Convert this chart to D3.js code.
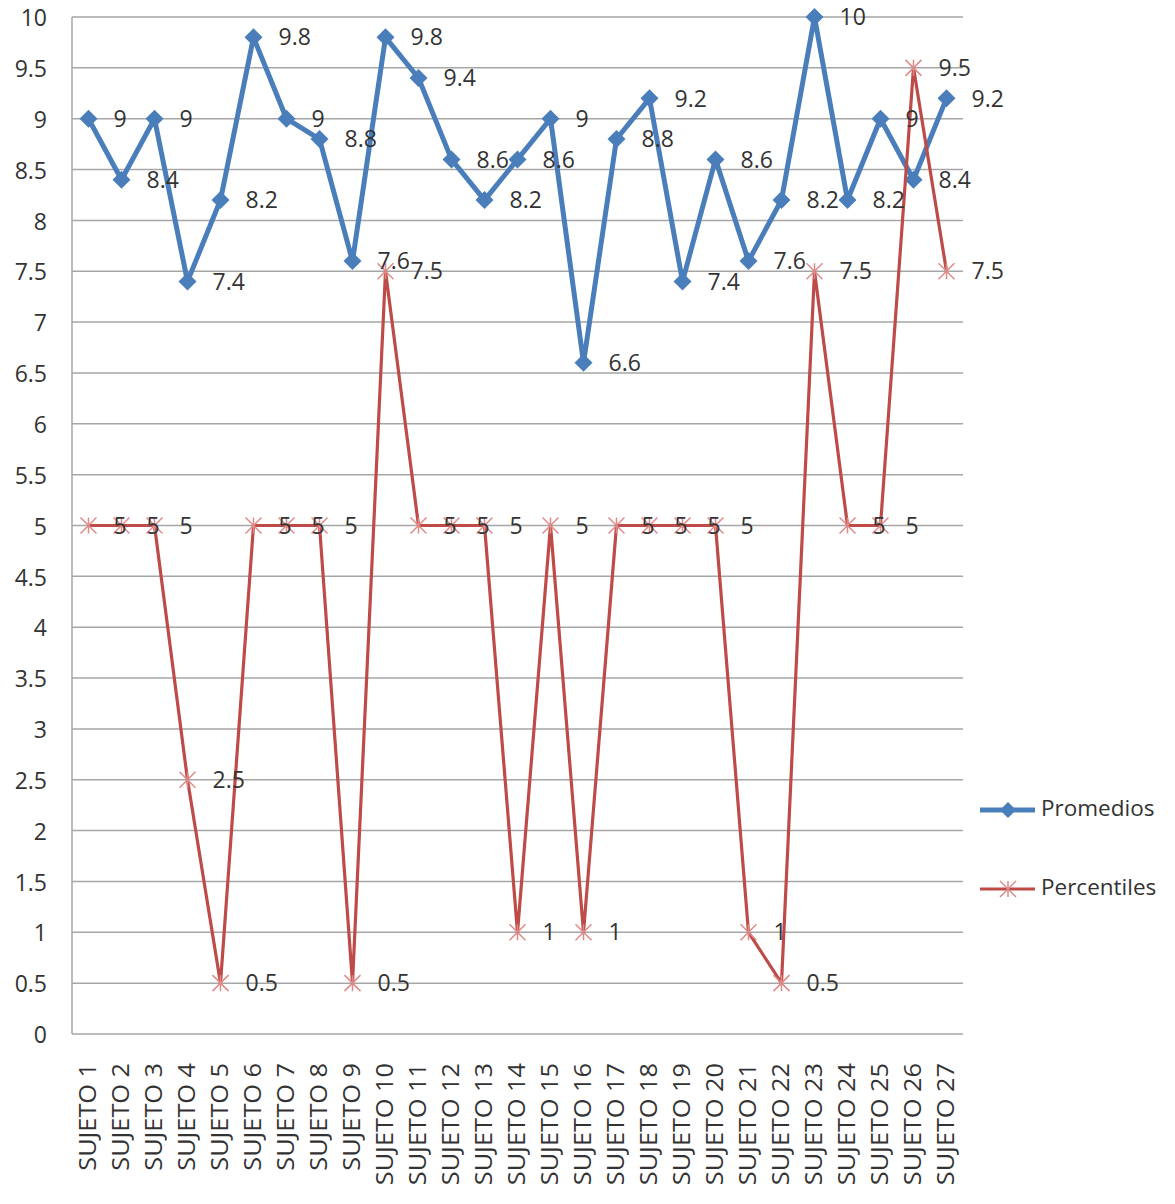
<!DOCTYPE html>
<html><head><meta charset="utf-8">
<script src="https://cdn.jsdelivr.net/npm/d3@7"></script>
<style>
html,body{margin:0;padding:0;background:#fff;}
svg text{font-family:"Open Sans",sans-serif;fill:#333;}
</style></head>
<body>
<svg id="chart" width="1175" height="1204"></svg>
<script>
const categories = d3.range(1, 28).map(i => "SUJETO " + i);
const promedios = [9, 8.4, 9, 7.4, 8.2, 9.8, 9, 8.8, 7.6, 9.8, 9.4, 8.6, 8.2, 8.6, 9, 6.6, 8.8, 9.2, 7.4, 8.6, 7.6, 8.2, 10, 8.2, 9, 8.4, 9.2];
const percentiles = [5, 5, 5, 2.5, 0.5, 5, 5, 5, 0.5, 7.5, 5, 5, 5, 1, 5, 1, 5, 5, 5, 5, 1, 0.5, 7.5, 5, 5, 9.5, 7.5];
const yTicks = d3.range(0, 10.01, 0.5);
const seriesNames = ["Promedios", "Percentiles"];

(function () {
const svg = d3.select("#chart");
const pL = 72, pR = 963, pT = 17, pB = 1034;
const x = d3.scaleBand().domain(categories).range([pL, pR]);
const y = d3.scaleLinear().domain([0, 10]).range([pB, pT]);
const cx = c => x(c) + x.bandwidth() / 2;
const fs = 23;

// gridlines
svg.append("g").selectAll("line").data(yTicks).join("line")
  .attr("x1", pL).attr("x2", pR)
  .attr("y1", d => y(d)).attr("y2", d => y(d))
  .attr("stroke", "#a6a6a6").attr("stroke-width", 1.5);
// left axis line
svg.append("line").attr("x1", pL).attr("x2", pL).attr("y1", pT).attr("y2", pB)
  .attr("stroke", "#a6a6a6").attr("stroke-width", 1.5);

// y tick labels
svg.append("g").selectAll("text").data(yTicks).join("text")
  .attr("x", 47).attr("y", d => y(d) + 3)
  .attr("text-anchor", "end").attr("dominant-baseline", "middle")
  .attr("font-size", fs)
  .text(d => d3.format("~g")(d));

// x labels
svg.append("g").selectAll("text").data(categories).join("text")
  .attr("transform", d => `translate(${cx(d) + 1},1063) rotate(-90) scale(1.1,1)`)
  .attr("text-anchor", "end").attr("dominant-baseline", "middle")
  .attr("font-size", fs)
  .text(d => d);

const line = d3.line().x((d, i) => cx(categories[i])).y(d => y(d));

// Promedios
const blue = "#4a7ebb", red = "#be4b48";
svg.append("path").datum(promedios).attr("d", line)
  .attr("fill", "none").attr("stroke", blue).attr("stroke-width", 5).attr("stroke-linejoin", "round");
const diamond = (g, s) => g.append("path").attr("d", `M0,${-s}L${s},0L0,${s}L${-s},0Z`).attr("fill", blue);
promedios.forEach((v, i) => {
  const g = svg.append("g").attr("transform", `translate(${cx(categories[i])},${y(v)})`);
  diamond(g, 9);
});

// Percentiles
svg.append("path").datum(percentiles).attr("d", line)
  .attr("fill", "none").attr("stroke", red).attr("stroke-width", 3.2).attr("stroke-linejoin", "round");
const star = (g, s, col) => {
  g.append("path").attr("d", `M${-s},${-s}L${s},${s}M${-s},${s}L${s},${-s}M0,${-s}L0,${s}`)
    .attr("stroke", col).attr("stroke-width", 1.5).attr("fill", "none");
};
percentiles.forEach((v, i) => {
  const g = svg.append("g").attr("transform", `translate(${cx(categories[i])},${y(v)})`);
  star(g, 8, "#e08a88");
});

// data labels
const fmt = d3.format("~g");
[promedios, percentiles].forEach(arr => {
  svg.append("g").selectAll("text").data(arr).join("text")
    .attr("x", (d, i) => cx(categories[i]) + 25)
    .attr("y", d => y(d) + 2)
    .attr("dominant-baseline", "middle")
    .attr("font-size", fs)
    .text(d => fmt(d));
});

// legend
const lg = svg.append("g");
[[blue, 810], [red, 889]].forEach(([col, ly], k) => {
  lg.append("line").attr("x1", 980).attr("x2", 1035).attr("y1", ly).attr("y2", ly)
    .attr("stroke", col).attr("stroke-width", k === 0 ? 5 : 3.2);
  const g = lg.append("g").attr("transform", `translate(1008,${ly})`);
  if (k === 0) diamond(g, 8); else star(g, 8, "#e08a88");
  lg.append("text").attr("x", 1041).attr("y", ly).attr("dominant-baseline", "middle")
    .attr("font-size", 22.5).text(seriesNames[k]);
});
})();
</script>
</body></html>
